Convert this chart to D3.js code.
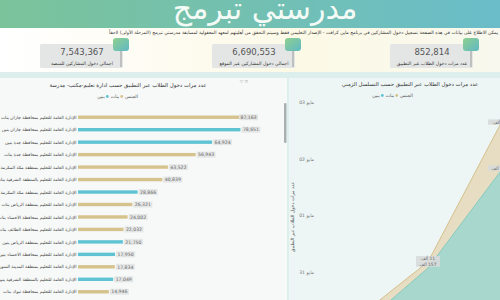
<!DOCTYPE html>
<html lang="ar">
  <head>
    <meta charset="UTF-8" />
    <script src="https://d3js.org/d3.v7.min.js"></script>
    <title>مدرستي تبرمج</title>
    <style>
      body { margin: 0; overflow: hidden; background: #fff; }
      text { font-family: 'DejaVu Sans', sans-serif; }
    </style>
  </head>
  <body>
    <script>
      const width = 500
      const height = 300

      // KPI cards
      const kpiValues = [7543367, 6690553, 852814]
      const kpiLabels = ['اجمالي دخول المشاركين للمنصة', 'اجمالي دخول المشاركين عبر الموقع', 'عدد مرات دخول الطلاب عبر التطبيق']

      // bar chart: by education department
      const rowNames = [
        'الإدارة العامة للتعليم بمحافظة جازان بنات',
        'الإدارة العامة للتعليم بمحافظة جازان بنين',
        'الإدارة العامة للتعليم بمحافظة جدة بنين',
        'الإدارة العامة للتعليم بمحافظة جدة بنات',
        'الإدارة العامة للتعليم بمنطقة مكة المكرمة بنات',
        'الإدارة العامة للتعليم بالمنطقة الشرقية بنات',
        'الإدارة العامة للتعليم بمنطقة مكة المكرمة بنين',
        'الإدارة العامة للتعليم بمنطقة الرياض بنات',
        'الإدارة العامة للتعليم بمحافظة الأحساء بنات',
        'الإدارة العامة للتعليم بمحافظة الطائف بنات',
        'الإدارة العامة للتعليم بمنطقة الرياض بنين',
        'الإدارة العامة للتعليم بمحافظة الأحساء بنين',
        'الإدارة العامة للتعليم بمنطقة المدينة المنورة بنات',
        'الإدارة العامة للتعليم بالمنطقة الشرقية بنين',
        'الإدارة العامة للتعليم بمحافظة تبوك بنات'
      ]
      const rowValues = [87163, 78651, 64924, 56943, 43522, 40839, 28866, 26321, 24002, 22032, 21750, 17950, 17834, 17049, 14946]
      const rowGender = ['بنات', 'بنين', 'بنين', 'بنات', 'بنات', 'بنات', 'بنين', 'بنات', 'بنات', 'بنات', 'بنين', 'بنين', 'بنات', 'بنين', 'بنات']

      // area chart: over time
      const days = [0, 1, 2]
      const boysSeries = [47, 157, 327]
      const girlsSeries = [20, 11, 83]
      const yTickValues = [150, 250, 350, 450]
      const yTickLabels = ['31 مايو', '01 مايو', '02 مايو', '03 مايو']

      const genders = ['بنين', 'بنات']
      const color = d3.scaleOrdinal().domain(genders).range(['#5fc3d4', '#d6c28c'])
      const areaFill = d3.scaleOrdinal().domain(genders).range(['#a8d7cd', '#e7ddc2'])
      const areaLine = d3.scaleOrdinal().domain(genders).range(['#84c8be', '#d4c08c'])
      const fmt = d3.format(',')

      const svg = d3.select('body').append('svg')
        .attr('width', width)
        .attr('height', height)

      const defs = svg.append('defs')
      const hg = defs.append('linearGradient').attr('id', 'hdr')
      hg.append('stop').attr('offset', '0%').attr('stop-color', '#7bc39a')
      hg.append('stop').attr('offset', '100%').attr('stop-color', '#6abdc9')
      const tg = defs.append('linearGradient').attr('id', 'tab').attr('x1', 0).attr('y1', 0).attr('x2', 1).attr('y2', 1)
      tg.append('stop').attr('offset', '0%').attr('stop-color', '#8fcf8f')
      tg.append('stop').attr('offset', '100%').attr('stop-color', '#5fb9c4')
      const bg = defs.append('linearGradient').attr('id', 'band')
      bg.append('stop').attr('offset', '0%').attr('stop-color', '#ffffff')
      bg.append('stop').attr('offset', '60%').attr('stop-color', '#fcf9e6')
      bg.append('stop').attr('offset', '100%').attr('stop-color', '#f8f8ee')
      defs.append('clipPath').attr('id', 'rclip').append('rect')
        .attr('x', 290).attr('y', 100).attr('width', 210).attr('height', 200)

      // header
      svg.append('rect').attr('width', width).attr('height', 28).attr('fill', 'url(#hdr)')
      svg.append('text')
        .attr('x', 265).attr('y', 19)
        .attr('text-anchor', 'middle')
        .attr('fill', '#f4fbf6')
        .attr('font-size', 30)
        .text('مدرستي تبرمج')

      svg.append('rect').attr('y', 28).attr('width', width).attr('height', 44).attr('fill', 'url(#band)')
      svg.append('text')
        .attr('x', 498).attr('y', 34)
        .attr('direction', 'rtl')
        .attr('text-anchor', 'start')
        .attr('font-size', 4.6)
        .attr('fill', '#333')
        .text('يمكن الاطلاع على بيانات في هذه الصفحة تسجيل دخول المشاركين في برنامج ماين كرافت - الإصدار التعليمي فقط وسيتم التحقق من أهليتهم لمعهد المعقولية لمسابقة مدرستي تبرمج (المرحلة الأولى) لاحقاً')

      // KPI cards
      const cardX = [40, 212, 390]
      const card = svg.append('g').selectAll('g')
        .data(kpiValues)
        .join('g')
        .attr('transform', (d, i) => `translate(${cardX[i]},44)`)
      card.append('rect').attr('width', 83).attr('height', 24).attr('rx', 1.5).attr('fill', '#e4e6e6')
      card.append('line').attr('x1', 81).attr('x2', 81).attr('y1', 6).attr('y2', 23).attr('stroke', '#666').attr('stroke-width', 0.6)
      card.append('rect').attr('x', 73).attr('y', -6).attr('width', 16).attr('height', 13).attr('rx', 3).attr('fill', 'url(#tab)')
      card.append('text')
        .attr('x', 42).attr('y', 11)
        .attr('text-anchor', 'middle')
        .attr('font-size', 8.5)
        .attr('fill', '#555')
        .text(d => fmt(d))
      card.append('text')
        .attr('x', 42).attr('y', 20.5)
        .attr('direction', 'rtl')
        .attr('text-anchor', 'middle')
        .attr('font-size', 4.6)
        .attr('fill', '#333')
        .text((d, i) => kpiLabels[i])

      // panels
      svg.append('rect').attr('y', 72).attr('width', width).attr('height', 228).attr('fill', '#dcefec')
      svg.append('rect').attr('x', 0).attr('y', 78).attr('width', 287).attr('height', 222).attr('fill', '#f6f9f8')
      svg.append('rect').attr('x', 289).attr('y', 78).attr('width', 211).attr('height', 222).attr('fill', '#edf6f5')
      svg.append('rect').attr('x', 284).attr('y', 103).attr('width', 2.5).attr('height', 40).attr('rx', 1).attr('fill', '#a9b0b0')

      // legend laid out from the right: title, then each gender with its dot
      function legend (g, rightX, cy) {
        const items = g.append('g').attr('font-size', 4.6).attr('fill', '#555')
        let cursor = rightX
        const put = s => {
          const t = items.append('text').attr('y', cy).attr('text-anchor', 'end').text(s)
          t.attr('x', cursor)
          cursor -= t.node().getComputedTextLength() + 2
        }
        put('الجنس')
        genders.slice().reverse().forEach(k => {
          items.append('circle').attr('cx', cursor - 1.4).attr('cy', cy - 1.5).attr('r', 1.4).attr('fill', color(k))
          cursor -= 4
          put(k)
        })
      }

      // left: bars
      const left = svg.append('g')
      left.append('text')
        .attr('x', 128).attr('y', 87)
        .attr('direction', 'rtl')
        .attr('text-anchor', 'middle')
        .attr('font-size', 5.4)
        .attr('fill', '#333')
        .text('عدد مرات دخول الطلاب عبر التطبيق حسب ادارة تعليم-مكتب- مدرسة')
      legend(left, 138, 98)
      left.append('text').attr('x', 244).attr('y', 83).attr('text-anchor', 'middle').attr('font-size', 4.5).attr('fill', '#aaa').text('▽ ≡')

      const x = d3.scaleLinear().domain([0, d3.max(rowValues)]).range([78, 258])
      const y = d3.scaleBand().domain(d3.range(rowValues.length)).range([111, 298])

      const row = left.append('g').selectAll('g')
        .data(rowValues)
        .join('g')
        .attr('transform', (d, i) => `translate(0,${y(i) + y.bandwidth() / 2})`)
      row.append('rect')
        .attr('x', x(0))
        .attr('y', -1.7)
        .attr('width', d => x(d) - x(0))
        .attr('height', 3.4)
        .attr('fill', (d, i) => color(rowGender[i]))
      row.append('text')
        .attr('x', x(0) - 1.5).attr('y', 1.6)
        .attr('direction', 'rtl')
        .attr('text-anchor', 'start')
        .attr('font-size', 4.4)
        .attr('fill', '#444')
        .text((d, i) => rowNames[i])
      const tag = row.append('g')
        .attr('transform', d => {
          const inside = x(d) + 23 > 270
          return `translate(${inside ? x(d) - 19 : x(d) + 1},0)`
        })
      tag.append('rect').attr('y', -3).attr('width', 19).attr('height', 6).attr('fill', '#e3e4e4').attr('opacity', 0.9)
      tag.append('text')
        .attr('x', 9.5).attr('y', 1.7)
        .attr('text-anchor', 'middle')
        .attr('font-size', 4.6)
        .attr('fill', '#666')
        .text(d => fmt(d))

      // right: stacked area
      const right = svg.append('g')
      right.append('text')
        .attr('x', 410).attr('y', 86)
        .attr('direction', 'rtl')
        .attr('text-anchor', 'middle')
        .attr('font-size', 5.4)
        .attr('fill', '#333')
        .text('عدد مرات دخول الطلاب عبر التطبيق حسب التسلسل الزمني')
      legend(right, 413, 97)

      const table = days.map((d, i) => ({ day: d, 'بنين': boysSeries[i], 'بنات': girlsSeries[i] }))
      const stacked = d3.stack().keys(genders)(table)

      const tx = d3.scaleLinear().domain(d3.extent(days)).range([356, 500])
      const ty = d3.scaleLinear().domain([150, 450]).range([272, 102.5])

      right.append('g')
        .attr('transform', 'translate(318,0)')
        .call(d3.axisLeft(ty).tickValues(yTickValues).tickSize(0).tickPadding(4).tickFormat((d, i) => yTickLabels[i]))
        .call(g => g.select('.domain').remove())
        .call(g => g.selectAll('text').attr('font-size', 4.6).attr('fill', '#777').attr('font-family', 'DejaVu Sans, sans-serif'))
      right.append('text')
        .attr('transform', 'translate(294,217) rotate(-90)')
        .attr('direction', 'rtl')
        .attr('text-anchor', 'middle')
        .attr('font-size', 4.6)
        .attr('fill', '#555')
        .text('عدد مرات دخول الطلاب عبر التطبيق')

      const plot = right.append('g').attr('clip-path', 'url(#rclip)')
      plot.selectAll('path.area')
        .data(stacked)
        .join('path')
        .attr('class', 'area')
        .attr('fill', d => areaFill(d.key))
        .attr('d', d3.area().x(d => tx(d.data.day)).y0(d => ty(d[0])).y1(d => ty(d[1])))
      plot.selectAll('path.line')
        .data(stacked)
        .join('path')
        .attr('class', 'line')
        .attr('fill', 'none')
        .attr('stroke', d => areaLine(d.key))
        .attr('stroke-width', 1)
        .attr('d', d3.line().x(d => tx(d.data.day)).y(d => ty(d[1])))

      const pts = stacked.flatMap(s => s.map(p => ({ key: s.key, day: p.data.day, top: p[1], v: p.data[s.key] })))
      const lab = plot.selectAll('g.lab')
        .data(pts)
        .join('g')
        .attr('class', 'lab')
        .attr('transform', d => `translate(${tx(d.day)},${ty(d.top) - (d.key === 'بنات' ? 3 : 4)})`)
      lab.append('rect').attr('x', -12).attr('y', -2.7).attr('width', 24).attr('height', 5.4).attr('fill', '#d7dada').attr('opacity', 0.9)
      lab.append('text')
        .attr('y', 1.6)
        .attr('direction', 'rtl')
        .attr('text-anchor', 'middle')
        .attr('font-size', 4.4)
        .attr('fill', '#666')
        .text(d => d.v + ' ألف')
    </script>
  </body>
</html>
